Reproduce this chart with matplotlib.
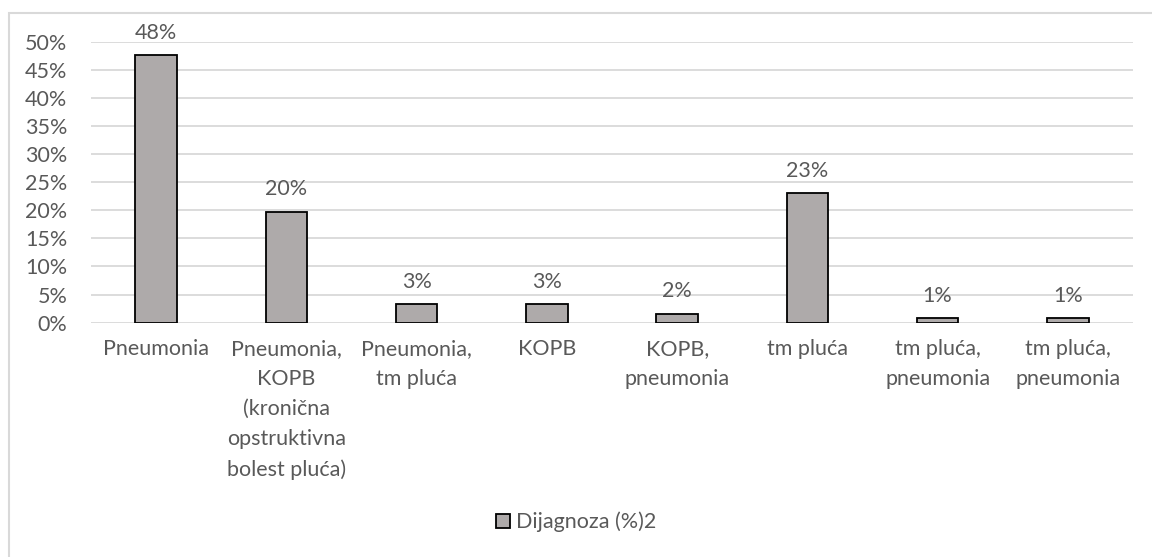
import matplotlib.pyplot as plt
from matplotlib.patches import Rectangle
from matplotlib.ticker import PercentFormatter

categories = ['Pneumonia', 'Pneumonia,\nKOPB\n(kronična\nopstruktivna\nbolest pluća)',
              'Pneumonia,\ntm pluća', 'KOPB', 'KOPB,\npneumonia', 'tm pluća',
              'tm pluća,\npneumonia', 'tm pluća,\npneumonia']
values = [0.476, 0.197, 0.033, 0.033, 0.016, 0.23, 0.008, 0.008]
series_name = 'Dijagnoza (%)2'

text_color = '#595959'
fs = 15.5
plt.rcParams['font.family'] = ['Lato', 'DejaVu Sans']
plt.rcParams['font.size'] = fs

fig = plt.figure(figsize=(11.52, 5.57), dpi=100)
ax = fig.add_axes([91 / 1152, 1 - 322.7 / 557, (1133 - 91) / 1152, (322.7 - 41.7) / 557])

# light chart border like the Excel chart area
fig.patches.append(Rectangle((9 / 1152, -0.05), 1.1, 1 - 13 / 557 + 0.05,
                             transform=fig.transFigure, fill=False,
                             edgecolor='#D9D9D9', linewidth=1.5))

x = range(len(categories))
bars = ax.bar(x, values, width=0.32, color='#AEAAAA', edgecolor='black',
              linewidth=1.3, label=series_name, zorder=3)

for b, v in zip(bars, values):
    ax.annotate(f'{v * 100:.0f}%', (b.get_x() + b.get_width() / 2, v),
                xytext=(0, 9), textcoords='offset points',
                ha='center', va='bottom', color=text_color, fontsize=fs)

ax.set_xlim(-0.5, len(categories) - 0.5)
ax.set_ylim(0, 0.5)
ax.set_yticks([i * 0.05 for i in range(11)])
ax.yaxis.set_major_formatter(PercentFormatter(1.0, decimals=0))
ax.set_xticks(list(x))
ax.set_xticklabels(categories, va='top', linespacing=1.62)
ax.tick_params(axis='both', length=0, colors=text_color, labelsize=fs)
ax.tick_params(axis='x', pad=12)
ax.tick_params(axis='y', pad=17)

ax.grid(axis='y', color='#D9D9D9', linewidth=1.3, zorder=0)
for s in ax.spines.values():
    s.set_visible(False)

leg = fig.legend(handles=[bars], labels=[series_name], loc='center',
                 bbox_to_anchor=(0.5, 1 - 522 / 557), frameon=False,
                 handlelength=0.65, handleheight=0.65, handletextpad=0.3,
                 fontsize=fs)
for t in leg.get_texts():
    t.set_color(text_color)

fig.savefig('out.png', dpi=100)
